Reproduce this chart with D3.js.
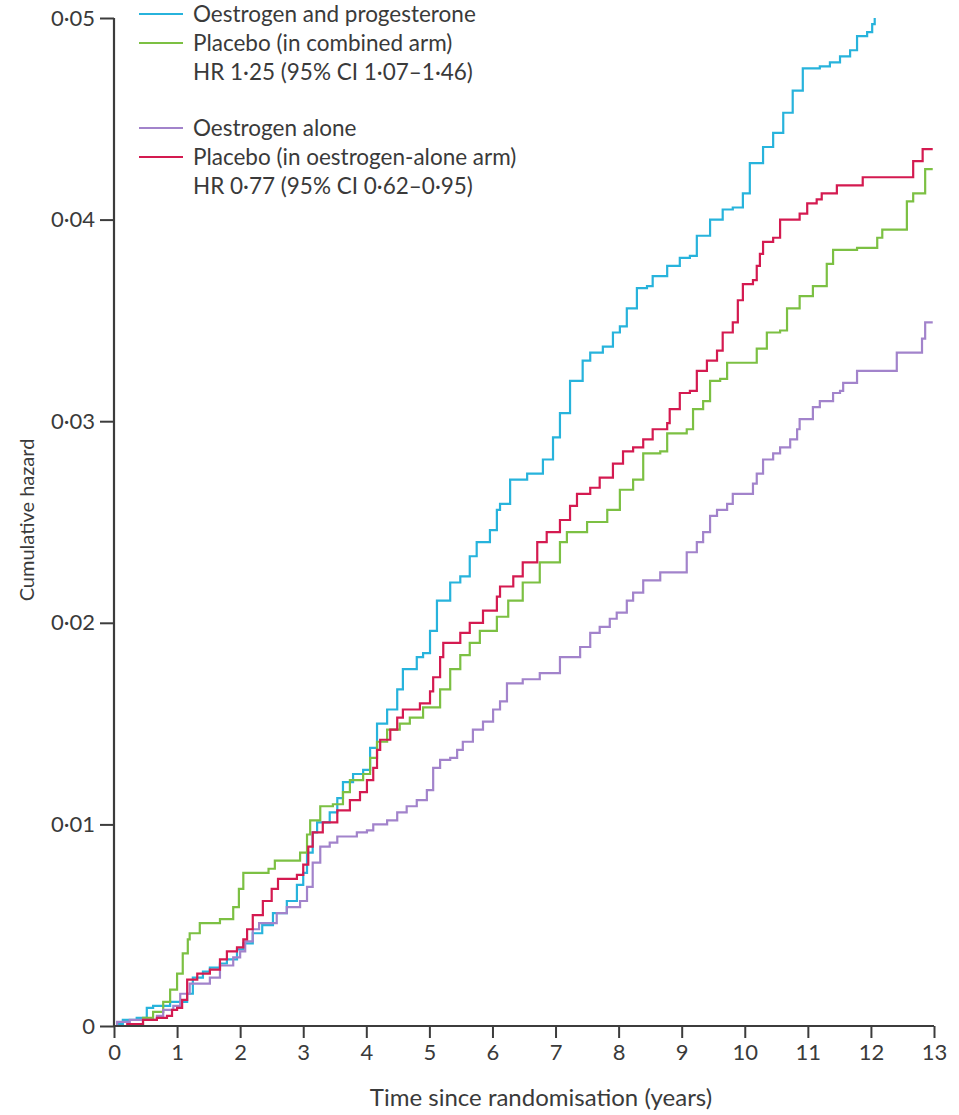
<!DOCTYPE html>
<html>
<head>
<meta charset="utf-8">
<script src="https://cdn.jsdelivr.net/npm/d3@7"></script>
<style>
  body { margin: 0; background: #fff; }
  svg { display: block; font-family: Lato, "Open Sans", sans-serif; }
</style>
</head>
<body>
<svg id="chart"></svg>
<script>
const oestrogenProgesterone = [
  [0, 0], [0.05, 0.0001], [0.14, 0.0003], [0.36, 0.0004], [0.52, 0.0009], [0.62, 0.001],
  [0.89, 0.0012], [1.16, 0.0016], [1.25, 0.0024], [1.41, 0.0027], [1.52, 0.0029], [1.68, 0.0031],
  [1.79, 0.0033], [1.95, 0.0038], [2.05, 0.0041], [2.2, 0.0046], [2.35, 0.005], [2.52, 0.0056],
  [2.74, 0.0062], [2.9, 0.007], [3.0, 0.0076], [3.06, 0.0086], [3.15, 0.0096], [3.22, 0.0101],
  [3.42, 0.0106], [3.54, 0.0113], [3.63, 0.0121], [3.79, 0.0125], [3.95, 0.0127], [4.06, 0.0138],
  [4.17, 0.015], [4.33, 0.0157], [4.49, 0.0167], [4.58, 0.0177], [4.8, 0.0183], [4.9, 0.0185],
  [5.01, 0.0196], [5.12, 0.0211], [5.33, 0.022], [5.49, 0.0223], [5.64, 0.0233], [5.75, 0.024],
  [5.96, 0.0246], [6.07, 0.0256], [6.12, 0.0259], [6.28, 0.0271], [6.55, 0.0274], [6.8, 0.0281],
  [6.96, 0.0292], [7.07, 0.0304], [7.23, 0.032], [7.43, 0.033], [7.55, 0.0334], [7.75, 0.0337],
  [7.91, 0.0344], [8.02, 0.0347], [8.13, 0.0356], [8.29, 0.0366], [8.45, 0.0367], [8.54, 0.0372],
  [8.77, 0.0377], [8.97, 0.0381], [9.13, 0.0382], [9.24, 0.0392], [9.45, 0.04], [9.65, 0.0405],
  [9.81, 0.0406], [9.97, 0.0413], [10.08, 0.0428], [10.29, 0.0436], [10.45, 0.0443], [10.61, 0.0453],
  [10.76, 0.0464], [10.92, 0.0475], [11.19, 0.0476], [11.35, 0.0478], [11.51, 0.0481], [11.67, 0.0484],
  [11.78, 0.0491], [11.94, 0.0493], [12.02, 0.0497], [12.06, 0.05]
];

const placeboCombined = [
  [0, 0], [0.25, 0.0001], [0.46, 0.0004], [0.62, 0.0007], [0.78, 0.0012], [0.89, 0.0018],
  [1.0, 0.0026], [1.09, 0.0036], [1.17, 0.0043], [1.2, 0.0046], [1.36, 0.0051], [1.68, 0.0053],
  [1.89, 0.0059], [1.98, 0.0068], [2.05, 0.0076], [2.45, 0.0078], [2.55, 0.0082], [2.95, 0.0086],
  [3.06, 0.0095], [3.11, 0.0102], [3.27, 0.0109], [3.47, 0.011], [3.63, 0.0116], [3.74, 0.0122],
  [3.95, 0.0125], [4.06, 0.0133], [4.17, 0.0141], [4.33, 0.0147], [4.53, 0.015], [4.69, 0.0153],
  [4.9, 0.0158], [5.17, 0.0167], [5.33, 0.0177], [5.49, 0.0184], [5.64, 0.019], [5.8, 0.0196],
  [6.07, 0.0203], [6.25, 0.0211], [6.48, 0.022], [6.75, 0.023], [7.07, 0.024], [7.18, 0.0245],
  [7.5, 0.025], [7.82, 0.0256], [8.02, 0.0266], [8.23, 0.0271], [8.39, 0.0284], [8.66, 0.0285],
  [8.77, 0.0294], [9.08, 0.0296], [9.18, 0.0306], [9.34, 0.031], [9.45, 0.032], [9.61, 0.0321],
  [9.72, 0.0329], [10.03, 0.0329], [10.19, 0.0336], [10.35, 0.0344], [10.56, 0.0345], [10.67, 0.0356],
  [10.87, 0.0362], [11.08, 0.0367], [11.3, 0.0378], [11.4, 0.0385], [11.78, 0.0386], [12.1, 0.0391],
  [12.18, 0.0395], [12.57, 0.0409], [12.67, 0.0413], [12.86, 0.0425], [12.98, 0.0425]
];

const oestrogenAlone = [
  [0, 0], [0.05, 0.0002], [0.25, 0.0003], [0.68, 0.0005], [0.78, 0.0008], [0.94, 0.001],
  [1.05, 0.0016], [1.2, 0.0021], [1.52, 0.0024], [1.68, 0.003], [1.89, 0.0034], [2.0, 0.0037],
  [2.08, 0.0042], [2.2, 0.0048], [2.3, 0.0051], [2.58, 0.0056], [2.74, 0.0059], [2.95, 0.0062],
  [3.06, 0.0069], [3.15, 0.0081], [3.27, 0.0089], [3.42, 0.0091], [3.54, 0.0094], [3.85, 0.0096],
  [4.01, 0.0097], [4.11, 0.01], [4.33, 0.0102], [4.49, 0.0106], [4.64, 0.0109], [4.8, 0.0112],
  [4.96, 0.0117], [5.06, 0.0128], [5.17, 0.0132], [5.33, 0.0133], [5.44, 0.0137], [5.53, 0.0141],
  [5.69, 0.0147], [5.85, 0.0151], [6.01, 0.0157], [6.12, 0.0161], [6.23, 0.017], [6.48, 0.0172],
  [6.75, 0.0175], [7.07, 0.0183], [7.39, 0.0188], [7.55, 0.0195], [7.7, 0.0198], [7.86, 0.0202],
  [7.97, 0.0205], [8.13, 0.0211], [8.23, 0.0215], [8.39, 0.0221], [8.66, 0.0225], [9.08, 0.0235],
  [9.24, 0.024], [9.34, 0.0245], [9.45, 0.0253], [9.56, 0.0256], [9.72, 0.0259], [9.81, 0.0264],
  [10.13, 0.0269], [10.19, 0.0274], [10.29, 0.0281], [10.45, 0.0284], [10.56, 0.0287], [10.72, 0.0291],
  [10.83, 0.0296], [10.87, 0.0301], [11.08, 0.0307], [11.19, 0.031], [11.4, 0.0314], [11.51, 0.0315],
  [11.56, 0.0319], [11.78, 0.0325], [12.41, 0.0334], [12.81, 0.0341], [12.86, 0.0349], [12.98, 0.0349]
];

const placeboOestrogenAlone = [
  [0, 0], [0.21, 0.0001], [0.46, 0.0003], [0.68, 0.0004], [0.84, 0.0005], [0.92, 0.0008],
  [1.0, 0.0009], [1.08, 0.0013], [1.16, 0.0023], [1.32, 0.0026], [1.52, 0.0028], [1.68, 0.0033],
  [1.79, 0.0037], [1.95, 0.0039], [2.05, 0.0043], [2.11, 0.0048], [2.2, 0.0055], [2.36, 0.0062],
  [2.5, 0.0068], [2.6, 0.0073], [2.9, 0.0075], [3.0, 0.008], [3.08, 0.0089], [3.15, 0.0096],
  [3.31, 0.0101], [3.54, 0.0107], [3.74, 0.0112], [3.9, 0.0116], [4.01, 0.0122], [4.11, 0.0128],
  [4.17, 0.0137], [4.22, 0.0142], [4.38, 0.0147], [4.49, 0.0153], [4.58, 0.0157], [4.85, 0.016],
  [5.01, 0.0166], [5.06, 0.0173], [5.17, 0.0183], [5.22, 0.019], [5.49, 0.0195], [5.64, 0.02],
  [5.85, 0.0206], [6.07, 0.0213], [6.12, 0.0218], [6.33, 0.0223], [6.48, 0.023], [6.71, 0.024],
  [6.86, 0.0245], [7.07, 0.0251], [7.23, 0.0258], [7.34, 0.0264], [7.55, 0.0267], [7.7, 0.0272],
  [7.91, 0.0279], [8.07, 0.0285], [8.23, 0.0287], [8.39, 0.0291], [8.54, 0.0296], [8.77, 0.0299],
  [8.81, 0.0306], [8.97, 0.0314], [9.13, 0.0315], [9.24, 0.0325], [9.4, 0.033], [9.56, 0.0335],
  [9.65, 0.0344], [9.81, 0.0349], [9.89, 0.036], [9.97, 0.0368], [10.13, 0.037], [10.19, 0.0377],
  [10.24, 0.0383], [10.29, 0.0389], [10.45, 0.0391], [10.56, 0.04], [10.87, 0.0403], [10.99, 0.0408],
  [11.14, 0.041], [11.22, 0.0413], [11.46, 0.0417], [11.87, 0.0421], [12.67, 0.0429], [12.82, 0.0435],
  [12.98, 0.0435]
];

const xTicks = d3.range(0, 14);
const yTicks = [0, 0.01, 0.02, 0.03, 0.04, 0.05];

const series = [
  { name: "Oestrogen and progesterone", color: "#27b3dc", values: oestrogenProgesterone },
  { name: "Placebo (in combined arm)", color: "#7cc043", values: placeboCombined },
  { name: "Oestrogen alone", color: "#a283cb", values: oestrogenAlone },
  { name: "Placebo (in oestrogen-alone arm)", color: "#d41a50", values: placeboOestrogenAlone }
];

// legend rows: a line colour or null for the HR text rows
const legendRows = [
  { text: "Oestrogen and progesterone", color: "#27b3dc" },
  { text: "Placebo (in combined arm)", color: "#7cc043" },
  { text: "HR 1·25 (95% CI 1·07–1·46)", color: null },
  { text: "Oestrogen alone", color: "#a283cb" },
  { text: "Placebo (in oestrogen-alone arm)", color: "#d41a50" },
  { text: "HR 0·77 (95% CI 0·62–0·95)", color: null }
];
const legendY = [14, 43, 72, 128, 157, 186];

const width = 959, height = 1115;
const axisColor = "#3c3c3c";
const textColor = "#3a3a3a";

const svg = d3.select("#chart").attr("width", width).attr("height", height);

const x = d3.scaleLinear().domain([0, 13]).range([114, 934]);
const y = d3.scaleLinear().domain([0, 0.05]).range([1026, 18]);

const dotFormat = v => v === 0 ? "0" : d3.format(".2f")(v).replace(".", "·");

// curves
const line = d3.line()
  .x(d => x(d[0]))
  .y(d => y(d[1]))
  .curve(d3.curveStepAfter);

svg.append("g").attr("class", "curves")
  .selectAll("path")
  .data(series)
  .join("path")
  .attr("fill", "none")
  .attr("stroke", d => d.color)
  .attr("stroke-width", 2.2)
  .attr("stroke-linejoin", "miter")
  .attr("d", d => line(d.values));

// axes
const xAxis = svg.append("g")
  .attr("transform", `translate(0,${y(0)})`)
  .call(d3.axisBottom(x).tickValues(xTicks).tickSize(12).tickPadding(6).tickFormat(d3.format("d")));

const yAxis = svg.append("g")
  .attr("transform", `translate(${x(0)},0)`)
  .call(d3.axisLeft(y).tickValues(yTicks).tickSize(14).tickPadding(5).tickFormat(dotFormat));

[xAxis, yAxis].forEach(ax => {
  ax.select(".domain").attr("stroke", axisColor).attr("stroke-width", 2.2);
  ax.selectAll(".tick line").attr("stroke", axisColor).attr("stroke-width", 2);
  ax.selectAll(".tick text")
    .attr("fill", textColor)
    .style("font-family", "Lato, sans-serif")
    .style("font-size", "22px");
});
xAxis.select(".domain").attr("d", `M${x(0)},0H${x(13)}`);
yAxis.select(".domain").attr("d", `M0,${y(0.05)}V${y(0)}`);

// axis titles
svg.append("text")
  .attr("x", x(6.5) + 17)
  .attr("y", 1098)
  .attr("dy", "0.35em")
  .attr("text-anchor", "middle")
  .attr("fill", textColor)
  .style("font-size", "24px")
  .text("Time since randomisation (years)");

svg.append("text")
  .attr("transform", `translate(27,${y(0.0251)}) rotate(-90)`)
  .attr("dy", "0.35em")
  .attr("text-anchor", "middle")
  .attr("fill", textColor)
  .style("font-size", "20px")
  .text("Cumulative hazard");

// legend
const legend = svg.append("g").attr("class", "legend");
const items = legend.selectAll("g")
  .data(legendRows)
  .join("g")
  .attr("transform", (d, i) => `translate(139,${legendY[i]})`);

items.filter(d => d.color)
  .append("line")
  .attr("x1", 0).attr("x2", 44)
  .attr("stroke", d => d.color)
  .attr("stroke-width", 2);

items.append("text")
  .attr("x", 54)
  .attr("dy", "0.35em")
  .attr("fill", textColor)
  .style("font-size", "22.5px")
  .text(d => d.text);
</script>
</body>
</html>
